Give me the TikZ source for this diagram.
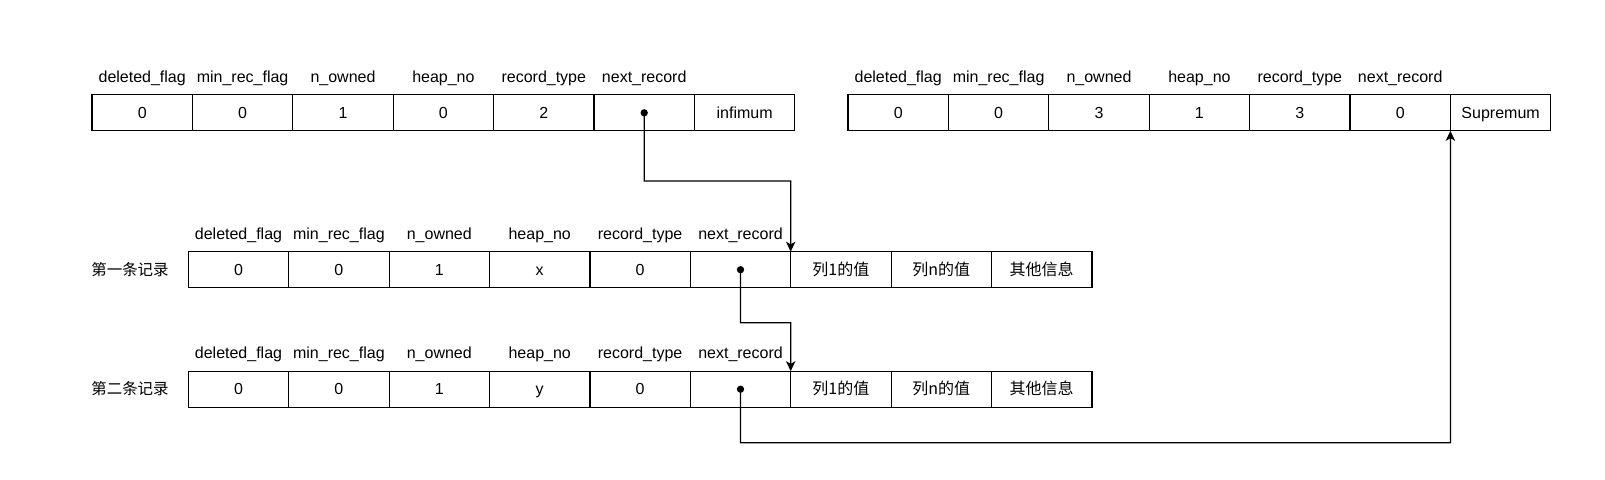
\documentclass[tikz,border=0pt]{standalone}
\usepackage{fontspec}
\setmainfont{Liberation Sans}
\newfontfamily\cjk{Noto Sans CJK SC}
\usetikzlibrary{arrows.meta}
\begin{document}
\begin{tikzpicture}[x=0.75pt,y=-0.75pt,
  cell/.style={draw, line width=0.9pt, minimum width=75.3pt, minimum height=27pt, inner sep=0pt, outer sep=0pt, text height=8.6pt, text depth=0.2pt, font=\fontsize{12}{14}\selectfont},
  lbl/.style={inner sep=0pt, text height=8.6pt, text depth=0.2pt, font=\fontsize{12}{14}\selectfont},
  rowname/.style={inner sep=0pt, text height=8.6pt, text depth=0.2pt, font=\cjk\fontsize{11.6}{14}\selectfont},
  conn/.style={line width=0.9pt, -{Stealth[length=7.5pt,width=7pt,inset=2pt]}},
  dot/.style={circle, fill, inner sep=0pt, minimum size=5.5pt}]
\useasboundingbox (0,0) rectangle (1605,479);

% top-left: infimum
\foreach \v [count=\i] in {0,0,1,0,2,{},infimum}
  \node[cell] (tl-\i) at ({92+(\i-0.5)*100.4},112.8) {\v};
\foreach \t [count=\i] in {deleted\_flag,min\_rec\_flag,n\_owned,heap\_no,record\_type,next\_record}
  \node[lbl] (tll-\i) at ({92+(\i-0.5)*100.4},76.8) {\t};

% top-right: supremum
\foreach \v [count=\i] in {0,0,3,1,3,0,Supremum}
  \node[cell] (tr-\i) at ({848+(\i-0.5)*100.4},112.8) {\v};
\foreach \t [count=\i] in {deleted\_flag,min\_rec\_flag,n\_owned,heap\_no,record\_type,next\_record}
  \node[lbl] (trl-\i) at ({848+(\i-0.5)*100.4},76.8) {\t};

% record 1
\node[rowname] (r1-name) at (130,269.7) {第一条记录};
\foreach \v [count=\i] in {0,0,1,x,0,{},{\cjk 列1的值},{\cjk 列n的值},{\cjk 其他信息}}
  \node[cell] (r1-\i) at ({188.3+(\i-0.5)*100.4},269.7) {\v};
\foreach \t [count=\i] in {deleted\_flag,min\_rec\_flag,n\_owned,heap\_no,record\_type,next\_record}
  \node[lbl] (r1l-\i) at ({188.3+(\i-0.5)*100.4},233.5) {\t};

% record 2
\node[rowname] (r2-name) at (130,389.2) {第二条记录};
\foreach \v [count=\i] in {0,0,1,y,0,{},{\cjk 列1的值},{\cjk 列n的值},{\cjk 其他信息}}
  \node[cell] (r2-\i) at ({188.3+(\i-0.5)*100.4},389.2) {\v};
\foreach \t [count=\i] in {deleted\_flag,min\_rec\_flag,n\_owned,heap\_no,record\_type,next\_record}
  \node[lbl] (r2l-\i) at ({188.3+(\i-0.5)*100.4},353.1) {\t};

% pointer dots
\node[dot] (d0) at (tl-6.center) {};
\node[dot] (d1) at (r1-6.center) {};
\node[dot] (d2) at (r2-6.center) {};

% connectors
\coordinate (k1) at (790.7,181);
\coordinate (k2) at (790.7,322.7);
\coordinate (k3) at (1450.4,442.7);
\draw[conn] (d0.center) |- (k1) -- (r1-6.north east);
\draw[conn] (d1.center) |- (k2) -- (r2-6.north east);
\draw[conn] (d2.center) |- (k3) -- (tr-6.south east);
\end{tikzpicture}
\end{document}
